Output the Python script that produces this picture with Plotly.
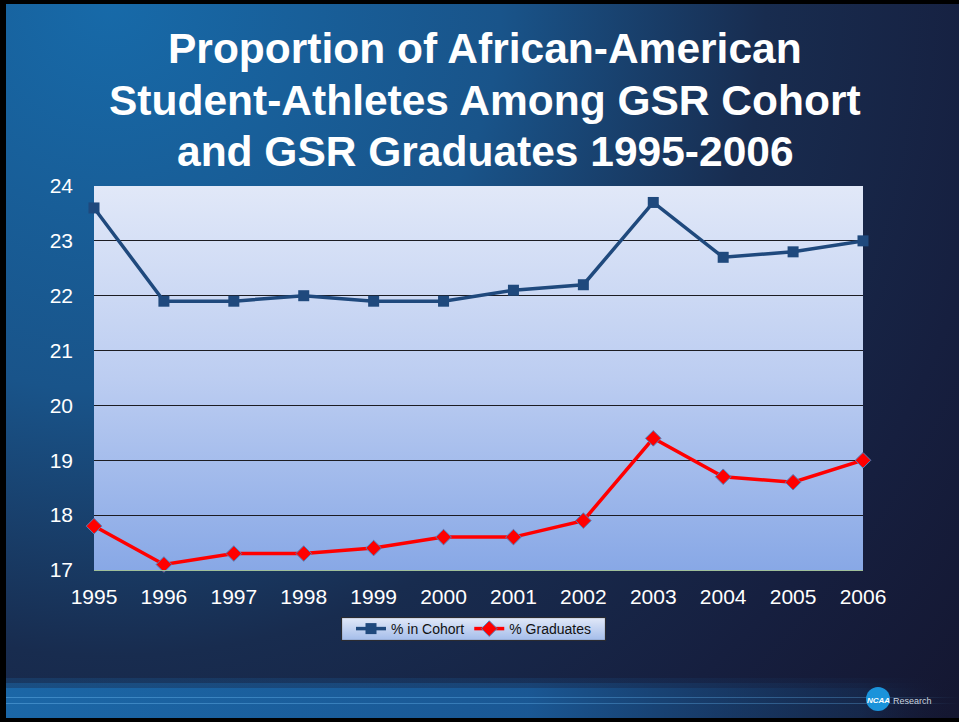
import base64
import plotly.graph_objects as go

# ---------------- data ----------------
years = [1995, 1996, 1997, 1998, 1999, 2000, 2001, 2002, 2003, 2004, 2005, 2006]
cohort = [23.6, 21.9, 21.9, 22.0, 21.9, 21.9, 22.1, 22.2, 23.7, 22.7, 22.8, 23.0]
graduates = [17.8, 17.1, 17.3, 17.3, 17.4, 17.6, 17.6, 17.9, 19.4, 18.7, 18.6, 19.0]
y_ticks = [17, 18, 19, 20, 21, 22, 23, 24]
title_lines = ["Proportion of African-American",
               "Student-Athletes Among GSR Cohort",
               "and GSR Graduates 1995-2006"]
series_names = ["% in Cohort", "% Graduates"]

# ---------------- geometry helpers ----------------
W, H = 959, 722
L, R, T, B = 94, 96, 186, 152
PW, PH = W - L - R, H - T - B


def px(x):
    return (x - L) / PW


def py(y):
    return (H - B - y) / PH


def svg_uri(svg):
    return "data:image/svg+xml;base64," + base64.b64encode(svg.encode()).decode()


bg_svg = f"""<svg xmlns='http://www.w3.org/2000/svg' width='{W}' height='{H}' viewBox='0 0 {W} {H}' preserveAspectRatio='none'>
<defs>
<radialGradient id='g' gradientUnits='userSpaceOnUse' cx='110' cy='0' r='1150'>
<stop offset='0' stop-color='#176aa9'/>
<stop offset='0.34' stop-color='#19548a'/>
<stop offset='0.57' stop-color='#182c4f'/>
<stop offset='0.78' stop-color='#161f3f'/>
<stop offset='1' stop-color='#14152e'/>
</radialGradient>
<linearGradient id='b' x1='0' y1='0' x2='1' y2='0'>
<stop offset='0' stop-color='#1b67a7' stop-opacity='1'/>
<stop offset='0.55' stop-color='#1a5a98' stop-opacity='0.95'/>
<stop offset='0.9' stop-color='#17406f' stop-opacity='0.35'/>
<stop offset='1' stop-color='#14152e' stop-opacity='0'/>
</linearGradient>
<linearGradient id='l' x1='0' y1='0' x2='1' y2='0'>
<stop offset='0' stop-color='#5aa6e0' stop-opacity='0.55'/>
<stop offset='0.9' stop-color='#5aa6e0' stop-opacity='0.35'/>
<stop offset='1' stop-color='#5aa6e0' stop-opacity='0'/>
</linearGradient>
</defs>
<rect width='{W}' height='{H}' fill='url(#g)'/>
<rect x='0' y='678' width='{W}' height='5' fill='url(#b)' opacity='0.25'/>
<rect x='0' y='683' width='{W}' height='5' fill='url(#b)' opacity='0.6'/>
<rect x='0' y='688' width='{W}' height='32' fill='url(#b)'/>
<rect x='0' y='697' width='{W}' height='1' fill='url(#l)'/>
<rect x='0' y='703' width='{W}' height='1' fill='url(#l)'/>
<rect x='0' y='0' width='6' height='{H}' fill='#000'/>
<rect x='0' y='0' width='{W}' height='4' fill='#000'/>
<rect x='0' y='718' width='{W}' height='4' fill='#000'/>
</svg>"""

plot_svg = """<svg xmlns='http://www.w3.org/2000/svg' width='100' height='100' viewBox='0 0 100 100' preserveAspectRatio='none'>
<defs><linearGradient id='p' x1='0' y1='0' x2='0' y2='1'>
<stop offset='0' stop-color='#e1e8f8'/>
<stop offset='0.5' stop-color='#bccdf1'/>
<stop offset='1' stop-color='#88a8e6'/>
</linearGradient></defs>
<rect width='100' height='100' fill='url(#p)'/>
</svg>"""

leg_x0, leg_x1, leg_y0, leg_y1 = 341, 606, 617, 641
leg_svg = f"""<svg xmlns='http://www.w3.org/2000/svg' width='{leg_x1-leg_x0}' height='{leg_y1-leg_y0}' viewBox='0 0 {leg_x1-leg_x0} {leg_y1-leg_y0}' preserveAspectRatio='none'>
<defs><linearGradient id='q' x1='0' y1='0' x2='0' y2='1'>
<stop offset='0' stop-color='#e2e9f8'/>
<stop offset='1' stop-color='#a3bcea'/>
</linearGradient></defs>
<rect x='0.5' y='0.5' width='{leg_x1-leg_x0-1}' height='{leg_y1-leg_y0-1}' fill='url(#q)' stroke='#2b2b30' stroke-width='1.2'/>
</svg>"""

FONT = "Liberation Sans, Arial, Helvetica, sans-serif"

fig = go.Figure()
fig.add_trace(go.Scatter(
    x=years, y=cohort, name=series_names[0], mode="lines+markers",
    line=dict(color="#1F497D", width=3.5),
    marker=dict(symbol="square", size=11, color="#1F497D"),
    cliponaxis=False,
))
fig.add_trace(go.Scatter(
    x=years, y=graduates, name=series_names[1], mode="lines+markers",
    line=dict(color="#FF0000", width=3.5),
    marker=dict(symbol="diamond", size=12, color="#FF0000",
                line=dict(color="#4F81BD", width=1)),
    cliponaxis=False,
))

images = [
    dict(source=svg_uri(bg_svg), xref="paper", yref="paper",
         x=px(0), y=py(0), sizex=W / PW, sizey=H / PH,
         xanchor="left", yanchor="top", sizing="stretch", layer="below"),
    dict(source=svg_uri(plot_svg), xref="paper", yref="paper",
         x=0, y=1, sizex=1, sizey=1,
         xanchor="left", yanchor="top", sizing="stretch", layer="below"),
    dict(source=svg_uri(leg_svg), xref="paper", yref="paper",
         x=px(leg_x0), y=py(leg_y0), sizex=(leg_x1 - leg_x0) / PW,
         sizey=(leg_y1 - leg_y0) / PH,
         xanchor="left", yanchor="top", sizing="stretch", layer="below"),
]

annotations = []
for line, ymid in zip(title_lines, [48, 100, 151]):
    annotations.append(dict(
        text=f"<b>{line}</b>", xref="paper", yref="paper",
        x=px(485), y=py(ymid), xanchor="center", yanchor="middle",
        showarrow=False, font=dict(family=FONT, size=42.5, color="white"),
    ))
annotations.append(dict(
    text="<b><i>NCAA</i></b>", xref="paper", yref="paper",
    x=px(878), y=py(700), xanchor="center", yanchor="middle",
    showarrow=False, font=dict(family=FONT, size=8, color="white"),
))
annotations.append(dict(
    text="Research", xref="paper", yref="paper",
    x=px(891), y=py(701), xanchor="left", yanchor="middle",
    showarrow=False, font=dict(family=FONT, size=9, color="#c9d2df"),
))

shapes = [
    dict(type="circle", xref="paper", yref="paper",
         x0=px(866), x1=px(890), y0=py(687), y1=py(711),
         fillcolor="#1b93da", line=dict(width=0), layer="above"),
]

fig.update_layout(
    width=W, height=H,
    margin=dict(l=L, r=R, t=T, b=B, pad=0),
    paper_bgcolor="#14203f",
    plot_bgcolor="rgba(0,0,0,0)",
    font=dict(family=FONT, color="white"),
    showlegend=True,
    legend=dict(
        orientation="h", x=px((leg_x0 + leg_x1) / 2), xanchor="center",
        y=py((leg_y0 + leg_y1) / 2), yanchor="middle",
        bgcolor="rgba(0,0,0,0)", borderwidth=0,
        font=dict(family=FONT, size=14, color="#111"),
        itemwidth=30, traceorder="normal",
    ),
    images=images,
    annotations=annotations,
    shapes=shapes,
    xaxis=dict(
        range=[years[0], years[-1]], tickmode="array", tickvals=years,
        ticktext=[str(y) for y in years], showgrid=False, zeroline=False,
        showline=True, linecolor="#9fbf9a", linewidth=1,
        ticks="", ticklabelstandoff=8,
        tickfont=dict(family=FONT, size=21, color="white"),
        fixedrange=True,
    ),
    yaxis=dict(
        range=[y_ticks[0], y_ticks[-1]], tickmode="array", tickvals=y_ticks,
        showgrid=True, gridcolor="#1c1c22", gridwidth=1.3, zeroline=False,
        showline=False, ticks="", ticklabelstandoff=20,
        tickfont=dict(family=FONT, size=21, color="white"),
        fixedrange=True,
    ),
)

fig.write_html("out.html")
